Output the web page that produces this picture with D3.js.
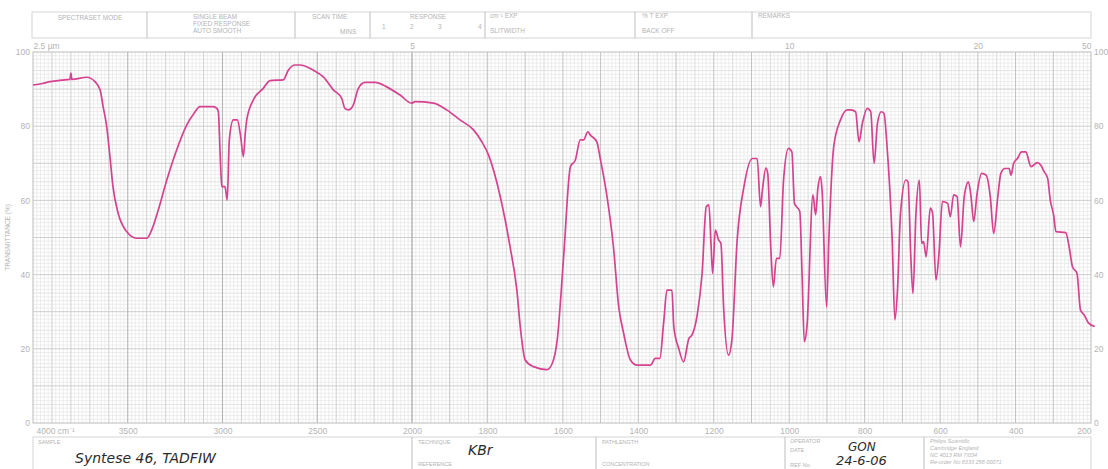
<!DOCTYPE html>
<html>
<head>
<meta charset="utf-8">
<script src="https://cdn.jsdelivr.net/npm/d3@7"></script>
<style>
  html, body { margin: 0; padding: 0; background: #ffffff; }
  svg { display: block; }
  .printed { font-family: "Liberation Sans", Arial, sans-serif; fill: #b4b4b4; }
  .hand { font-family: "DejaVu Sans", sans-serif; font-style: italic; fill: #2b2b2b; }
</style>
</head>
<body>
<svg id="chart" width="1108" height="469"></svg>
<script>
// IR spectrum, KBr pellet — wavenumber (cm-1) vs transmittance (%)
const wavenumber = [
  4000, 3950, 3910, 3850, 3805, 3800, 3795, 3717, 3673, 3646, 3630, 3611, 3594, 3578, 3551, 3506,
  3453, 3400, 3374, 3339, 3294, 3242, 3189, 3150, 3119, 3049, 3030, 3022, 3012, 3004, 2987, 2975,
  2964, 2943, 2922, 2904, 2890, 2880, 2872, 2837, 2785, 2749, 2679, 2653, 2617, 2591, 2521, 2468,
  2415, 2371, 2354, 2336, 2310, 2283, 2248, 2195, 2134, 2063, 2002, 1992, 1943, 1908, 1873, 1837,
  1815, 1797, 1766, 1740, 1722, 1713, 1700, 1678, 1642, 1628, 1615, 1598, 1580, 1567, 1554, 1545,
  1534, 1527, 1510, 1501, 1483, 1466, 1452, 1439, 1421, 1403, 1368, 1355, 1343, 1333, 1324, 1311,
  1306, 1293, 1280, 1266, 1258, 1244, 1231, 1220, 1213, 1207, 1203, 1196, 1187, 1181, 1174, 1161,
  1152, 1138, 1120, 1098, 1085, 1076, 1071, 1062, 1057, 1049, 1042, 1034, 1025, 1015, 1002, 993,
  986, 972, 966, 960, 953, 937, 930, 924, 917, 913, 901, 895, 882, 864, 846, 837,
  824, 815, 806, 793, 784, 775, 766, 756, 749, 740, 727, 720, 713, 705, 691, 685,
  678, 672, 664, 655, 649, 644, 637, 626, 620, 611, 603, 594, 580, 573, 564, 555,
  546, 536, 525, 518, 511, 502, 490, 478, 467, 458, 447, 439, 428, 417, 412, 405,
  395, 384, 373, 359, 342, 333, 324, 315, 308, 299, 293, 267, 258, 249, 237, 228,
  218, 207, 190
];
const transmittance = [
  91.1, 91.5, 92.0, 92.4, 92.6, 94.3, 92.6, 93.2, 92.0, 89.8, 85.3, 79.9, 71.8, 63.7, 56.6, 51.6,
  49.8, 49.8, 52.0, 57.4, 65.5, 73.6, 80.3, 83.5, 85.3, 85.3, 84.8, 83.9, 72.0, 63.7, 63.7, 60.1,
  76.3, 81.7, 81.7, 77.2, 71.8, 78.0, 81.7, 87.1, 90.2, 92.3, 92.5, 95.1, 96.5, 96.5, 95.1, 93.3,
  89.8, 87.5, 84.8, 84.4, 85.7, 90.2, 91.8, 91.8, 90.6, 88.4, 86.2, 86.6, 86.2, 84.4, 81.7, 79.0,
  75.8, 72.2, 61.0, 47.5, 35.8, 26.0, 17.0, 15.2, 14.4, 16.1, 22.4, 44.8, 69.1, 70.9, 76.3, 76.3,
  78.5, 77.6, 75.8, 71.3, 61.0, 47.5, 31.3, 24.2, 17.0, 15.6, 15.6, 17.4, 17.4, 26.9, 35.8, 35.8,
  26.0, 20.1, 16.5, 22.8, 23.7, 29.1, 40.3, 58.3, 58.8, 47.5, 40.3, 52.0, 49.3, 48.4, 31.3, 18.3,
  22.4, 49.3, 63.7, 71.3, 71.3, 58.3, 62.8, 68.7, 67.3, 47.5, 36.7, 44.4, 44.4, 65.5, 74.0, 73.1,
  59.2, 57.0, 40.3, 21.9, 26.0, 61.5, 56.1, 63.3, 66.4, 62.8, 31.3, 49.3, 74.5, 81.7, 84.4, 84.4,
  83.9, 75.8, 80.8, 84.8, 83.9, 70.0, 80.8, 83.9, 83.5, 73.6, 49.3, 27.8, 35.8, 56.5, 65.5, 65.0,
  45.7, 34.9, 56.5, 65.5, 48.4, 48.9, 44.8, 57.9, 56.5, 38.5, 45.7, 59.7, 59.2, 55.6, 61.5, 61.0,
  47.5, 61.0, 65.0, 61.0, 54.3, 61.9, 67.3, 66.8, 61.0, 51.1, 61.0, 67.3, 68.6, 68.6, 66.8, 70.0,
  71.3, 73.1, 73.1, 69.1, 70.2, 69.5, 67.7, 66.0, 60.1, 56.0, 51.6, 51.3, 47.5, 42.1, 40.3, 30.5,
  29.1, 27.0, 26.0
];

// Axis labels
const wavenumberTicks = [4000, 3500, 3000, 2500, 2000, 1800, 1600, 1400, 1200, 1000, 800, 600, 400, 200];
const micronTicks = [2.5, 5, 10, 20, 50];
const transTicks = [0, 20, 40, 60, 80, 100];

const svg = d3.select("#chart");
const L = 33, R = 1091, T = 52, B = 423;

// Chart paper: 4000–2000 cm-1 at half the scale of 2000–200 cm-1
const x = d3.scaleLinear().domain([4000, 2000, 200]).range([L, 412, R]);
const y = d3.scaleLinear().domain([0, 100]).range([B, T]);

// ---- grid ----
const grid = svg.append("g");
function vline(wn, color, w) {
  grid.append("line").attr("x1", x(wn)).attr("x2", x(wn))
    .attr("y1", T).attr("y2", B).attr("stroke", color).attr("stroke-width", w);
}
function hline(t, color, w) {
  grid.append("line").attr("x1", L).attr("x2", R)
    .attr("y1", y(t)).attr("y2", y(t)).attr("stroke", color).attr("stroke-width", w);
}
for (let t = 0; t <= 100; t += 1) {
  if (t % 10 === 0) continue;
  hline(t, t % 5 === 0 ? "#dcdcdc" : "#e9e9e9", 0.8);
}
for (let wn = 4000; wn > 2000; wn -= 20) {
  if (wn % 100 === 0) continue;
  vline(wn, "#e8e8e8", 0.8);
}
for (let wn = 2000; wn > 200; wn -= 10) {
  if (wn % 50 === 0) continue;
  vline(wn, "#e8e8e8", 0.8);
}
for (let t = 10; t < 100; t += 10) hline(t, "#c8c8c8", 0.9);
for (let wn = 3900; wn > 2000; wn -= 100) vline(wn, wn % 500 === 0 ? "#b4b4b4" : "#cccccc", wn % 500 === 0 ? 1.1 : 0.9);
for (let wn = 1950; wn > 200; wn -= 50) vline(wn, wn % 100 === 0 ? "#c2c2c2" : "#d4d4d4", wn % 100 === 0 ? 1 : 0.8);
vline(2000, "#a4a4a4", 1.2);
vline(1800, "#cccccc", 1.4);
grid.append("rect").attr("x", L).attr("y", T).attr("width", R - L).attr("height", B - T)
  .attr("fill", "none").attr("stroke", "#bcbcbc").attr("stroke-width", 1);

// ---- axis labels ----
const fmtTrans = d => String(d);
svg.append("g").attr("transform", `translate(${L - 1},0)`)
  .call(d3.axisLeft(y).tickValues(transTicks).tickSize(0).tickPadding(2).tickFormat(fmtTrans))
  .call(g => g.select(".domain").remove())
  .call(g => g.selectAll("text").attr("class", "printed").attr("font-size", 8.5).attr("fill", "#b4b4b4"));
svg.append("g").attr("transform", `translate(${R + 1},0)`)
  .call(d3.axisRight(y).tickValues(transTicks).tickSize(0).tickPadding(2).tickFormat(fmtTrans))
  .call(g => g.select(".domain").remove())
  .call(g => g.selectAll("text").attr("class", "printed").attr("font-size", 8.5).attr("fill", "#b4b4b4"));

svg.append("g").attr("transform", `translate(0,${B + 2})`)
  .call(d3.axisBottom(x).tickValues(wavenumberTicks).tickSize(0).tickPadding(3)
    .tickFormat(d => d === 4000 ? "4000 cm\u207B\u00B9" : String(d)))
  .call(g => g.select(".domain").remove())
  .call(g => g.selectAll("text").attr("class", "printed").attr("font-size", 8.5).attr("fill", "#a8a8a8")
    .attr("text-anchor", d => d === 4000 ? "start" : (d === 200 ? "end" : "middle"))
    .attr("dx", d => d === 4000 ? 3 : 0));

// micrometre scale on top
svg.append("g").attr("transform", `translate(0,${T - 3})`)
  .call(d3.axisTop(x).tickValues(micronTicks.map(m => 10000 / m)).tickSize(0).tickPadding(0)
    .tickFormat(v => { const m = 10000 / v; return m === 2.5 ? "2.5 \u00B5m" : String(m); }))
  .call(g => g.select(".domain").remove())
  .call(g => g.selectAll("text").attr("class", "printed").attr("font-size", 8.5).attr("fill", "#a8a8a8")
    .attr("text-anchor", v => v === 4000 ? "start" : (v === 200 ? "end" : "middle")));

svg.append("text").attr("class", "printed").attr("font-size", 6.5).attr("fill", "#d0d0d0")
  .attr("transform", `translate(10,${(T + B) / 2}) rotate(-90)`).attr("text-anchor", "middle")
  .text("TRANSMITTANCE (%)");

// ---- spectrum trace ----
const pts = wavenumber.map((w, i) => [w, transmittance[i]]);
svg.append("path").datum(pts)
  .attr("fill", "none").attr("stroke", "#d6428f").attr("stroke-width", 1.7)
  .attr("stroke-linejoin", "round")
  .attr("d", d3.line().x(d => x(d[0])).y(d => y(d[1])).curve(d3.curveMonotoneX));

// ---- header boxes ----
const hdr = svg.append("g");
const boxStroke = "#d0d0d0";
const headerEdges = [32, 147, 295, 370, 485, 635, 752, 1091];
for (let i = 0; i < headerEdges.length - 1; i++) {
  hdr.append("rect").attr("x", headerEdges[i]).attr("y", 12)
    .attr("width", headerEdges[i + 1] - headerEdges[i]).attr("height", 26)
    .attr("fill", "none").attr("stroke", boxStroke).attr("stroke-width", 0.9);
}
function ptext(g, tx, ty, s, size, anchor) {
  g.append("text").attr("class", "printed").attr("x", tx).attr("y", ty)
    .attr("font-size", size || 6.5).attr("text-anchor", anchor || "start").text(s);
}
ptext(hdr, 90, 20, "SPECTRASET  MODE", 6.5, "middle");
ptext(hdr, 193, 19, "SINGLE  BEAM");
ptext(hdr, 193, 26, "FIXED  RESPONSE");
ptext(hdr, 193, 33, "AUTO  SMOOTH");
ptext(hdr, 312, 19, "SCAN  TIME");
ptext(hdr, 340, 34, "MINS");
ptext(hdr, 428, 19, "RESPONSE", 6.5, "middle");
ptext(hdr, 382, 29, "1"); ptext(hdr, 410, 29, "2"); ptext(hdr, 438, 29, "3"); ptext(hdr, 478, 29, "4");
ptext(hdr, 490, 18, "cm\u207B\u00B9  EXP");
ptext(hdr, 490, 33, "SLITWIDTH");
ptext(hdr, 642, 18, "%  T  EXP");
ptext(hdr, 642, 33, "BACK  OFF");
ptext(hdr, 758, 18, "REMARKS");

// ---- footer boxes ----
const ftr = svg.append("g");
const footerEdges = [33, 412, 596, 785, 924, 1091];
for (let i = 0; i < footerEdges.length - 1; i++) {
  ftr.append("rect").attr("x", footerEdges[i]).attr("y", 437)
    .attr("width", footerEdges[i + 1] - footerEdges[i]).attr("height", 40)
    .attr("fill", "none").attr("stroke", boxStroke).attr("stroke-width", 0.9);
}
ptext(ftr, 38, 444, "SAMPLE", 5.5);
ptext(ftr, 418, 444, "TECHNIQUE", 5.5);
ptext(ftr, 418, 466, "REFERENCE", 5.5);
ptext(ftr, 602, 444, "PATHLENGTH", 5.5);
ptext(ftr, 602, 466, "CONCENTRATION", 5.5);
ptext(ftr, 790, 443, "OPERATOR", 5.5);
ptext(ftr, 790, 452, "DATE", 5.5);
ptext(ftr, 790, 467, "REF  No.", 5.5);
[["Philips Scientific", 443], ["Cambridge England", 450], ["NC 4013  RM  7/034", 457], ["Re-order No 8333 258 00071", 464]]
  .forEach(([s, ty]) => ftr.append("text").attr("class", "printed").attr("x", 930).attr("y", ty)
    .attr("font-size", 5.5).attr("font-style", "italic").attr("fill", "#a0a0a0").text(s));

// handwritten entries
function hand(tx, ty, s, size) {
  ftr.append("text").attr("class", "hand").attr("x", tx).attr("y", ty)
    .attr("font-size", size).text(s);
}
hand(75, 463, "Syntese 46, TADFIW", 14);
hand(468, 455, "KBr", 14);
hand(848, 451, "GON", 12);
hand(836, 465, "24-6-06", 13);
</script>
</body>
</html>
